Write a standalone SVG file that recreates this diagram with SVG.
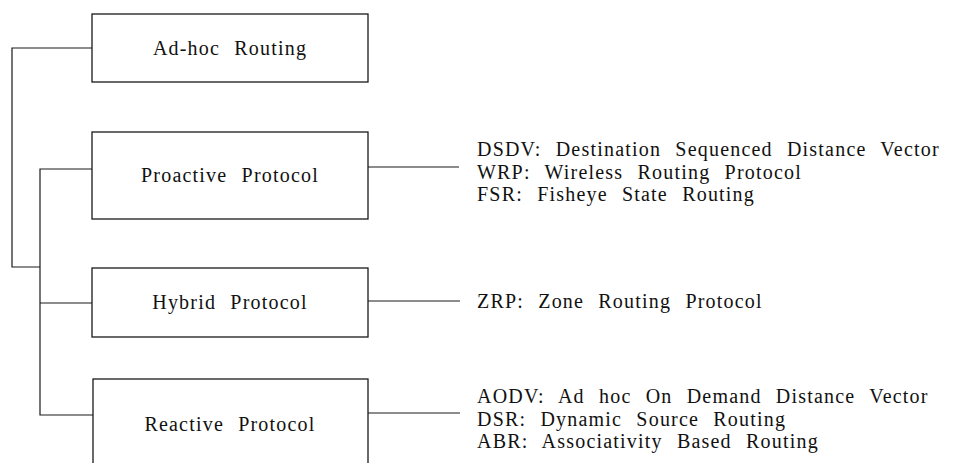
<svg xmlns="http://www.w3.org/2000/svg" width="954" height="463" viewBox="0 0 954 463">
  <style>
    .box { fill: #ffffff; stroke: #1a1a1a; stroke-width: 1.3; }
    .wire { fill: none; stroke: #1a1a1a; stroke-width: 1.2; }
    text { font-family: "Liberation Serif", "Times New Roman", serif; font-size: 20px; fill: #111111; letter-spacing: 1.2px; word-spacing: 8px; }
    .mid { text-anchor: middle; }
  </style>
  <rect width="954" height="463" fill="#ffffff"/>

  <g id="connectors">
    <!-- tree on the left -->
    <polyline class="wire" points="92,48 12,48 12,267 40,267"/>
    <polyline class="wire" points="92,169 40,169 40,415 93,415"/>
    <line class="wire" x1="40" y1="303" x2="92" y2="303"/>
    <!-- leaders to the protocol lists -->
    <line class="wire" x1="368" y1="167" x2="459" y2="167"/>
    <line class="wire" x1="368" y1="301" x2="460" y2="301"/>
    <line class="wire" x1="368" y1="413" x2="460" y2="413"/>
  </g>

  <g id="adhoc-routing">
    <rect class="box" x="92" y="14" width="276" height="68"/>
    <text class="mid" x="230" y="55">Ad-hoc Routing</text>
  </g>

  <g id="proactive-protocol">
    <rect class="box" x="92" y="132" width="276" height="87"/>
    <text class="mid" x="230" y="182">Proactive Protocol</text>
  </g>

  <g id="hybrid-protocol">
    <rect class="box" x="92" y="268" width="276" height="69"/>
    <text class="mid" x="230" y="309">Hybrid Protocol</text>
  </g>

  <g id="reactive-protocol">
    <rect class="box" x="93" y="379" width="275" height="100"/>
    <text class="mid" x="230" y="431">Reactive Protocol</text>
  </g>

  <g id="proactive-list">
    <text x="477" y="156">DSDV: Destination Sequenced Distance Vector</text>
    <text x="477" y="178.5">WRP: Wireless Routing Protocol</text>
    <text x="477" y="201">FSR: Fisheye State Routing</text>
  </g>

  <g id="hybrid-list">
    <text x="477" y="308">ZRP: Zone Routing Protocol</text>
  </g>

  <g id="reactive-list">
    <text x="477" y="403">AODV: Ad hoc On Demand Distance Vector</text>
    <text x="477" y="425.5">DSR: Dynamic Source Routing</text>
    <text x="477" y="448">ABR: Associativity Based Routing</text>
  </g>
</svg>
